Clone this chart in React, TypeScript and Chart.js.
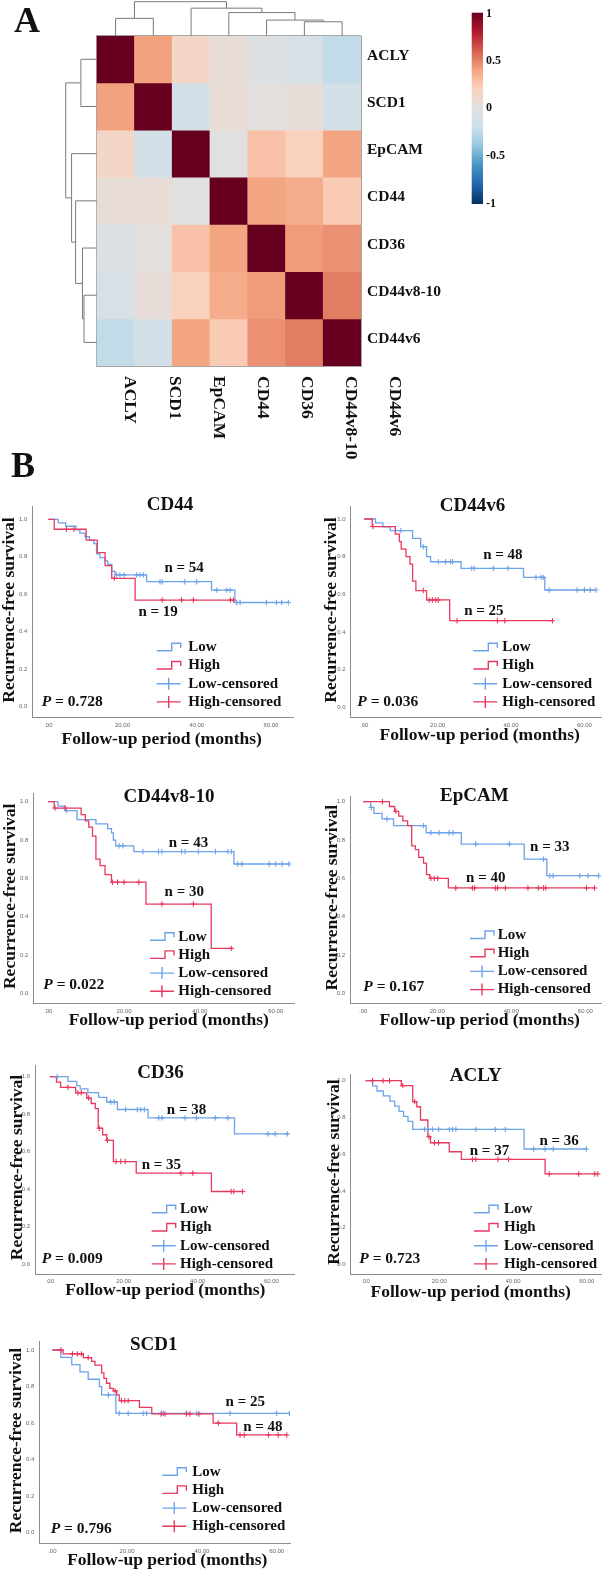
import React, { useEffect, useRef } from 'react';
import { Chart, registerables } from 'chart.js';
Chart.register(...registerables);

const SERIF = "'Liberation Serif', 'Times New Roman', serif";
const BLUE = '#6da3e8';
const RED = '#e8395e';
const AXIS = '#8c8c8c';

// ---------------- Heatmap (panel A) ----------------
const GENES = ['ACLY', 'SCD1', 'EpCAM', 'CD44', 'CD36', 'CD44v8-10', 'CD44v6'];
const corrACLY = [1, 0.41, 0.15, 0.06, -0.04, -0.09, -0.24];
const corrSCD1 = [0.41, 1, -0.14, 0.06, 0.02, 0.05, -0.13];
const corrEpCAM = [0.15, -0.14, 1, 0.0, 0.28, 0.21, 0.4];
const corrCD44 = [0.06, 0.06, 0.0, 1, 0.4, 0.37, 0.235];
const corrCD36 = [-0.04, 0.02, 0.28, 0.4, 1, 0.43, 0.46];
const corrCD44v810 = [-0.09, 0.05, 0.21, 0.37, 0.43, 1, 0.52];
const corrCD44v6 = [-0.24, -0.13, 0.4, 0.235, 0.46, 0.52, 1];
const CORR_ROWS = [corrACLY, corrSCD1, corrEpCAM, corrCD44, corrCD36, corrCD44v810, corrCD44v6];

// dendrogram merges (leaf ids 0..6, merge ids 7..12)
const MERGE_A = [5, 4, 0, 3, 2, 9];
const MERGE_B = [6, 7, 1, 8, 10, 11];
const MERGE_H = [0.41, 0.46, 0.51, 0.68, 0.81, 1.0];

const CB_VALUES = [-1, -0.8, -0.6, -0.4, -0.2, 0, 0.2, 0.4, 0.6, 0.8, 1];
const CB_COLORS = ['#053061', '#2166ac', '#4393c3', '#92c5de', '#cde0eb', '#e0e0e0', '#fad3bf', '#f4a582', '#d6604d', '#b2182b', '#67001f'];
const CB_TICKS = [1, 0.5, 0, -0.5, -1];
const CB_TICK_LABELS = ['1', '0.5', '0', '-0.5', '-1'];

function hexRgb(h: string) {
  return [parseInt(h.slice(1, 3), 16), parseInt(h.slice(3, 5), 16), parseInt(h.slice(5, 7), 16)];
}
function corrColor(v: number) {
  for (let i = 0; i < CB_VALUES.length - 1; i++) {
    if (v <= CB_VALUES[i + 1]) {
      const f = (v - CB_VALUES[i]) / (CB_VALUES[i + 1] - CB_VALUES[i]);
      const a = hexRgb(CB_COLORS[i]);
      const b = hexRgb(CB_COLORS[i + 1]);
      const c = a.map((x, k) => Math.round(x + (b[k] - x) * f));
      return `rgb(${c[0]},${c[1]},${c[2]})`;
    }
  }
  return CB_COLORS[CB_COLORS.length - 1];
}

const heatDecor = {
  id: 'heatDecor',
  afterDraw(chart: any) {
    const { ctx, chartArea } = chart;
    const xs = chart.scales.x;
    const ys = chart.scales.y;
    ctx.save();
    // dendrograms
    ctx.strokeStyle = '#7a7a7a';
    ctx.lineWidth = 1;
    const draw = (top: boolean) => {
      const pos: number[] = [];
      const hg: number[] = [];
      for (let i = 0; i < GENES.length; i++) {
        pos[i] = top ? xs.getPixelForValue(i) : ys.getPixelForValue(i + 0.5);
        hg[i] = 0;
      }
      const toPx = (h: number) => (top ? chartArea.top - h * 34 : chartArea.left - h * 31);
      MERGE_A.forEach((a, k) => {
        const b = MERGE_B[k];
        const h = MERGE_H[k];
        const id = GENES.length + k;
        ctx.beginPath();
        if (top) {
          ctx.moveTo(pos[a], toPx(hg[a]));
          ctx.lineTo(pos[a], toPx(h));
          ctx.lineTo(pos[b], toPx(h));
          ctx.lineTo(pos[b], toPx(hg[b]));
        } else {
          ctx.moveTo(toPx(hg[a]), pos[a]);
          ctx.lineTo(toPx(h), pos[a]);
          ctx.lineTo(toPx(h), pos[b]);
          ctx.lineTo(toPx(hg[b]), pos[b]);
        }
        ctx.stroke();
        pos[id] = (pos[a] + pos[b]) / 2;
        hg[id] = h;
      });
    };
    draw(true);
    draw(false);

    // row labels
    ctx.fillStyle = '#111';
    ctx.font = `bold 15.5px ${SERIF}`;
    ctx.textAlign = 'left';
    ctx.textBaseline = 'middle';
    GENES.forEach((g, r) => {
      ctx.fillText(g, chartArea.right + 6, ys.getPixelForValue(r + 0.5) - 3.5);
    });
    // column labels (rotated, reading downward)
    ctx.font = `bold 17.5px ${SERIF}`;
    GENES.forEach((g, i) => {
      ctx.save();
      ctx.translate(130 + i * 44.1, 376);
      ctx.rotate(Math.PI / 2);
      ctx.fillText(g, 0, 0);
      ctx.restore();
    });

    // colour bar
    const cbL = 471.7, cbT = 12.7, cbW = 11.3, cbH = 191.3;
    const grad = ctx.createLinearGradient(0, cbT, 0, cbT + cbH);
    CB_VALUES.forEach((v, i) => grad.addColorStop((1 - v) / 2, CB_COLORS[i]));
    ctx.fillStyle = grad;
    ctx.fillRect(cbL, cbT, cbW, cbH);
    ctx.fillStyle = '#111';
    ctx.font = `bold 12px ${SERIF}`;
    ctx.textAlign = 'left';
    CB_TICKS.forEach((v, i) => {
      ctx.fillText(CB_TICK_LABELS[i], 486, cbT + ((1 - v) / 2) * cbH + (i === 0 ? 1 : 0));
    });

    // panel letters
    ctx.font = `bold 36px ${SERIF}`;
    ctx.textBaseline = 'alphabetic';
    ctx.fillText('A', 14, 32);
    ctx.fillText('B', 11, 476.5);
    ctx.restore();
  },
};

function makeHeatmap(canvas: HTMLCanvasElement) {
  const gridCfg = { color: '#a6a6a6', lineWidth: 1, drawTicks: false };
  return new Chart(canvas, {
    type: 'bar',
    data: {
      labels: GENES,
      datasets: CORR_ROWS.map((row, r) => ({
        label: GENES[r],
        data: row.map(() => [r, r + 1]),
        backgroundColor: row.map(corrColor),
        borderWidth: 0,
        grouped: false,
        barPercentage: 1,
        categoryPercentage: 1,
      })),
    } as any,
    options: {
      animation: false,
      responsive: false,
      devicePixelRatio: 1,
      layout: { padding: { left: 96.7, top: 35.7, right: 246, bottom: 119 } },
      plugins: { legend: { display: false }, tooltip: { enabled: false } },
      scales: {
        x: {
          type: 'category',
          offset: true,
          z: 1,
          grid: { ...gridCfg, offset: true },
          border: { display: true, color: '#a6a6a6' },
          ticks: { display: false },
          afterFit: (s: any) => { s.height = 0; },
        },
        y: {
          type: 'linear',
          min: 0,
          max: 7,
          reverse: true,
          z: 1,
          grid: gridCfg,
          border: { display: true, color: '#a6a6a6' },
          ticks: { display: false, stepSize: 1 },
          afterFit: (s: any) => { s.width = 0; },
        },
      },
    } as any,
    plugins: [heatDecor],
  });
}

// ---------------- Kaplan-Meier (panel B) ----------------
const KM_X_TICKS = [0, 20, 40, 60];
const KM_Y_TICKS = [0, 0.2, 0.4, 0.6, 0.8, 1.0];
const LEGEND_LABELS = ['Low', 'High', 'Low-censored', 'High-censored'];
const PANEL_NAMES = ['CD44', 'CD44v6', 'CD44v8-10', 'EpCAM', 'CD36', 'ACLY', 'SCD1'];
const P_VALUES = ['0.728', '0.036', '0.022', '0.167', '0.009', '0.723', '0.796'];
const N_LOW = [54, 48, 43, 33, 38, 36, 25];
const N_HIGH = [19, 25, 30, 40, 35, 37, 48];

// CD44
const cd44LowT = [2.7, 4.7, 7.5, 8.5, 9.9, 11.1, 12.3, 13.0, 13.9, 15.3, 16.0, 17.1, 18.0, 26.5, 44.0, 50.3];
const cd44LowS = [0.981, 0.963, 0.944, 0.926, 0.907, 0.889, 0.87, 0.815, 0.796, 0.778, 0.759, 0.722, 0.703, 0.667, 0.622, 0.556];
const cd44LowC = [18.4, 19.3, 20.4, 23.8, 24.7, 25.6, 30.1, 30.7, 36.8, 40.0, 45.4, 48.1, 49.0, 50.8, 51.7, 58.8, 61.5, 62.9, 64.7];
const cd44HighT = [1.6, 10.2, 13.2, 15.3, 17.1, 23.4];
const cd44HighS = [0.947, 0.889, 0.822, 0.753, 0.685, 0.569];
const cd44HighC = [4.9, 6.9, 17.8, 30.7, 35.9, 39.1, 49.1, 49.9];
// CD44v6
const v6LowT = [3.1, 5.1, 7.1, 13.2, 15.4, 17.0, 18.1, 26.4, 43.4, 49.2];
const v6LowS = [0.979, 0.958, 0.938, 0.897, 0.853, 0.8, 0.773, 0.738, 0.69, 0.623];
const v6LowC = [10.0, 16.1, 20.2, 22.2, 23.5, 24.1, 29.3, 30.0, 35.2, 39.2, 46.8, 48.2, 48.8, 50.4, 58.0, 60.0, 61.6, 63.1];
const v6HighT = [2.2, 8.5, 9.6, 10.1, 11.4, 12.5, 13.2, 14.1, 17.0, 23.3];
const v6HighS = [0.96, 0.92, 0.88, 0.84, 0.8, 0.76, 0.67, 0.62, 0.57, 0.46];
const v6HighC = [2.4, 16.1, 17.7, 18.6, 19.5, 20.2, 25.3, 36.3, 38.3, 51.3];
// CD44v8-10
const v810LowT = [2.6, 4.5, 7.6, 12.6, 15.7, 16.7, 17.2, 17.8, 22.6, 49.0];
const v810LowS = [0.977, 0.953, 0.907, 0.884, 0.86, 0.837, 0.8, 0.77, 0.74, 0.675];
const v810LowC = [4.8, 18.7, 19.7, 25.0, 29.1, 30.0, 35.2, 36.1, 39.6, 44.1, 47.4, 48.3, 50.0, 51.1, 58.3, 60.0, 61.7, 63.5];
const v810HighT = [1.6, 8.7, 9.8, 10.7, 11.7, 12.6, 13.7, 15.0, 16.7, 25.8, 43.0];
const v810HighS = [0.967, 0.933, 0.9, 0.867, 0.82, 0.7, 0.667, 0.62, 0.58, 0.466, 0.235];
const v810HighC = [1.8, 4.5, 17.0, 18.3, 20.0, 23.9, 30.0, 38.3, 48.3];
// EpCAM
const epLowT = [2.0, 2.9, 5.1, 8.2, 17.0, 26.5, 43.5, 49.6];
const epLowS = [0.97, 0.939, 0.91, 0.875, 0.838, 0.779, 0.7, 0.614];
const epLowC = [2.2, 6.4, 16.3, 18.3, 20.5, 23.2, 24.3, 30.4, 39.5, 48.7, 50.4, 51.3, 58.5, 60.7, 63.6];
const epHighT = [7.1, 8.5, 9.6, 10.7, 12.0, 13.1, 14.1, 15.0, 16.3, 17.1, 18.0, 23.0];
const epHighS = [0.975, 0.95, 0.925, 0.9, 0.875, 0.77, 0.75, 0.71, 0.68, 0.62, 0.6, 0.55];
const epHighC = [5.2, 8.8, 18.3, 19.2, 20.1, 25.0, 29.5, 30.1, 35.7, 36.3, 38.4, 44.5, 47.3, 48.7, 49.3, 60.3, 62.5];
// CD36
const cd36LowT = [4.9, 7.3, 8.2, 10.3, 13.2, 15.4, 18.3, 26.6, 50.0];
const cd36LowS = [0.975, 0.952, 0.935, 0.915, 0.89, 0.865, 0.825, 0.78, 0.695];
const cd36LowC = [2.0, 16.5, 17.4, 20.5, 23.7, 24.6, 25.6, 29.5, 30.4, 36.6, 39.7, 44.8, 48.2, 59.1, 61.0, 64.3];
const cd36HighT = [1.8, 2.9, 7.0, 10.0, 11.2, 12.3, 13.1, 14.3, 15.4, 17.2, 23.4, 43.75];
const cd36HighS = [0.971, 0.943, 0.914, 0.886, 0.857, 0.83, 0.725, 0.69, 0.66, 0.547, 0.485, 0.387];
const cd36HighC = [4.9, 7.6, 8.5, 10.5, 13.4, 15.6, 17.9, 19.2, 20.4, 35.5, 38.7, 49.1, 49.8, 52.2];
// ACLY
const aclyLowT = [1.9, 3.1, 4.8, 6.6, 7.9, 9.1, 10.3, 11.5, 12.8, 43.0];
const aclyLowS = [0.972, 0.944, 0.917, 0.889, 0.861, 0.833, 0.806, 0.778, 0.735, 0.628];
const aclyLowC = [16.0, 16.9, 18.2, 19.8, 22.7, 23.6, 24.5, 29.9, 35.2, 37.9, 45.6, 48.7, 50.9, 59.9];
const aclyHighT = [9.7, 12.8, 13.9, 14.9, 16.9, 17.6, 22.7, 26.0, 48.7];
const aclyHighS = [0.973, 0.886, 0.858, 0.786, 0.695, 0.662, 0.613, 0.572, 0.492];
const aclyHighC = [1.9, 4.75, 6.5, 10.1, 13.3, 17.2, 18.7, 19.8, 29.0, 29.9, 35.9, 38.8, 49.8, 57.8, 62.2, 63.0];
// SCD1
const scd1LowT = [2.3, 5.2, 7.4, 9.6, 12.6, 13.2, 17.0];
const scd1LowS = [0.96, 0.92, 0.88, 0.84, 0.8, 0.754, 0.653];
const scd1LowC = [15.0, 17.9, 20.3, 24.3, 25.2, 29.2, 29.7, 35.9, 38.6, 47.5, 60.0, 63.4];
const scd1HighT = [2.9, 8.3, 10.5, 11.4, 13.2, 13.8, 14.5, 15.4, 16.3, 17.2, 17.9, 23.3, 26.6, 43.0, 49.3];
const scd1HighS = [0.979, 0.958, 0.938, 0.917, 0.875, 0.845, 0.818, 0.79, 0.776, 0.754, 0.723, 0.686, 0.65, 0.6, 0.535];
const scd1HighC = [2.3, 5.4, 6.7, 7.8, 9.6, 16.8, 18.5, 19.4, 20.3, 29.1, 30.1, 35.9, 36.8, 39.2, 44.4, 50.2, 51.3, 57.8, 60.4, 62.7];

const KM_SERIES = [
  [cd44LowT, cd44LowS, cd44LowC, cd44HighT, cd44HighS, cd44HighC],
  [v6LowT, v6LowS, v6LowC, v6HighT, v6HighS, v6HighC],
  [v810LowT, v810LowS, v810LowC, v810HighT, v810HighS, v810HighC],
  [epLowT, epLowS, epLowC, epHighT, epHighS, epHighC],
  [cd36LowT, cd36LowS, cd36LowC, cd36HighT, cd36HighS, cd36HighC],
  [aclyLowT, aclyLowS, aclyLowC, aclyHighT, aclyHighS, aclyHighC],
  [scd1LowT, scd1LowS, scd1LowC, scd1HighT, scd1HighS, scd1HighC],
];

// layout per panel (page pixel coordinates)
const LAYOUT = [
  { cl: 0, ct: 488, cw: 300, ch: 265, L: 32.3, T: 506.7, R: 293.3, B: 717.3, x0: 48.3, kx: 3.71, y1: 519.3, y0: 706.7,
    nLow: [36.6, 0.738], nHigh: [29.6, 0.504], leg: [124.4, 156, 70], pAt: [9.4, 15.6], title: [170, 505], xt: [161.7, 739], ytX: 9 },
  { cl: 300, ct: 488, cw: 307, ch: 265, L: 350.7, T: 506.7, R: 605, B: 717.3, x0: 364.3, kx: 3.717, y1: 519, y0: 707.3,
    nLow: [37.8, 0.81], nHigh: [32.6, 0.513], leg: [122.6, 151.6, 70], pAt: [6.6, 15.3], title: [472.5, 506], xt: [479.7, 735.7], ytX: 331 },
  { cl: 0, ct: 776, cw: 300, ch: 262, L: 33.3, T: 793.3, R: 297.7, B: 1003.3, x0: 48.3, kx: 3.833, y1: 801.7, y0: 993.4,
    nLow: [37, 0.783], nHigh: [35.9, 0.527], leg: [116.7, 145, 66.6], pAt: [10, 18.3], title: [169, 796.7], xt: [168.8, 1020], ytX: 10 },
  { cl: 300, ct: 776, cw: 307, ch: 262, L: 350, T: 796, R: 604, B: 1003.3, x0: 363.3, kx: 3.733, y1: 801.7, y0: 993.4,
    nLow: [50.4, 0.765], nHigh: [33.1, 0.6], leg: [120, 147.7, 68.3], pAt: [13.3, 16], title: [474.3, 796], xt: [479.7, 1020], ytX: 332.5 },
  { cl: 0, ct: 1052, cw: 300, ch: 256, L: 35, T: 1065, R: 297.7, B: 1274, x0: 50, kx: 3.733, y1: 1076.7, y0: 1264,
    nLow: [37, 0.822], nHigh: [30.2, 0.529], leg: [116.7, 145, 64.7], pAt: [6.7, 14.7], title: [160.5, 1073.3], xt: [165.3, 1290], ytX: 17 },
  { cl: 300, ct: 1052, cw: 307, ch: 256, L: 350.7, T: 1074, R: 604, B: 1274, x0: 365.7, kx: 3.717, y1: 1080.7, y0: 1264.3,
    nLow: [52.5, 0.673], nHigh: [33.6, 0.619], leg: [123.3, 153.3, 64.7], pAt: [8.6, 14.7], title: [475.8, 1076], xt: [470.7, 1292.7], ytX: 334 },
  { cl: 0, ct: 1326, cw: 300, ch: 244, L: 39.3, T: 1341.7, R: 290, B: 1543.3, x0: 52.3, kx: 3.74, y1: 1350, y0: 1532.7,
    nLow: [51.6, 0.717], nHigh: [56.3, 0.58], leg: [123, 153, 71.6], pAt: [11.4, 14.3], title: [153.8, 1345], xt: [167.3, 1560], ytX: 16 },
];

function stepLine(t: number[], s: number[], c: number[]) {
  const pts = [{ x: 0, y: 1 }];
  t.forEach((ti, i) => pts.push({ x: ti, y: s[i] }));
  const end = Math.max(t[t.length - 1], ...c);
  pts.push({ x: end, y: s[s.length - 1] });
  return pts;
}
function survAt(t: number[], s: number[], time: number) {
  let v = 1;
  for (let i = 0; i < t.length; i++) if (t[i] <= time) v = s[i];
  return v;
}
function censorPts(t: number[], s: number[], c: number[]) {
  return c.map((ci) => ({ x: ci, y: survAt(t, s, ci) }));
}

function kmDecor(idx: number) {
  const p: any = LAYOUT[idx];
  return {
    id: 'kmDecor',
    afterDraw(chart: any) {
      const ctx = chart.ctx;
      const ca = chart.chartArea;
      const xs = chart.scales.x;
      const ys = chart.scales.y;
      const ox = p.cl, oy = p.ct;
      ctx.save();
      ctx.fillStyle = '#111';
      ctx.textAlign = 'center';
      ctx.textBaseline = 'middle';
      ctx.font = `bold 19px ${SERIF}`;
      ctx.fillText(PANEL_NAMES[idx], p.title[0] - ox, p.title[1] - oy);
      ctx.font = `bold 17.5px ${SERIF}`;
      ctx.fillText('Follow-up period (months)', p.xt[0] - ox, p.xt[1] - oy);
      ctx.save();
      ctx.translate(p.ytX - ox, (ca.top + ca.bottom) / 2 - 2);
      ctx.rotate(-Math.PI / 2);
      ctx.fillText('Recurrence-free survival', 0, 0);
      ctx.restore();

      ctx.font = `bold 15px ${SERIF}`;
      ctx.fillText(`n = ${N_LOW[idx]}`, xs.getPixelForValue(p.nLow[0]), ys.getPixelForValue(p.nLow[1]));
      ctx.fillText(`n = ${N_HIGH[idx]}`, xs.getPixelForValue(p.nHigh[0]), ys.getPixelForValue(p.nHigh[1]));

      // P value
      ctx.textAlign = 'left';
      const px = ca.left + p.pAt[0];
      const py = ca.bottom - p.pAt[1];
      ctx.font = `italic bold 15.5px ${SERIF}`;
      ctx.fillText('P', px, py);
      const w = ctx.measureText('P').width;
      ctx.font = `bold 15.5px ${SERIF}`;
      ctx.fillText(` = ${P_VALUES[idx]}`, px + w, py);

      // legend
      const ix = ca.left + p.leg[0];
      const tx = ca.left + p.leg[1];
      const iw = 24;
      LEGEND_LABELS.forEach((lab, i) => {
        const y = ca.bottom - (p.leg[2] - i * 18.2);
        const col = i % 2 === 0 ? BLUE : RED;
        ctx.strokeStyle = col;
        ctx.lineWidth = 1.4;
        ctx.beginPath();
        if (i < 2) {
          ctx.moveTo(ix, y + 3.5);
          ctx.lineTo(ix + 15, y + 3.5);
          ctx.lineTo(ix + 15, y - 4);
          ctx.lineTo(ix + iw, y - 4);
          ctx.lineTo(ix + iw, y + 0.5);
        } else {
          ctx.moveTo(ix, y);
          ctx.lineTo(ix + iw, y);
          ctx.moveTo(ix + 12, y - 6);
          ctx.lineTo(ix + 12, y + 6);
        }
        ctx.stroke();
        ctx.fillStyle = '#111';
        ctx.font = `bold 15px ${SERIF}`;
        ctx.fillText(lab, tx, y);
      });
      ctx.restore();
    },
  };
}

function makeKm(canvas: HTMLCanvasElement, idx: number) {
  const p: any = LAYOUT[idx];
  const [lt, ls, lc, ht, hs, hc] = KM_SERIES[idx];
  const span = p.y0 - p.y1;
  const xMin = (p.L - p.x0) / p.kx;
  const xMax = (p.R - p.x0) / p.kx;
  const yMax = (p.y0 - p.T) / span;
  const yMin = (p.y0 - p.B) / span;
  return new Chart(canvas, {
    type: 'scatter',
    data: {
      datasets: [
        { label: 'Low', data: stepLine(lt, ls, lc), showLine: true, stepped: 'before', borderColor: BLUE, borderWidth: 1.3, pointRadius: 0, order: 4 },
        { label: 'High', data: stepLine(ht, hs, hc), showLine: true, stepped: 'before', borderColor: RED, borderWidth: 1.3, pointRadius: 0, order: 3 },
        { label: 'Low-censored', data: censorPts(lt, ls, lc), showLine: false, pointStyle: 'cross', pointRadius: 2.7, borderColor: BLUE, backgroundColor: BLUE, pointBorderWidth: 1.1, order: 2 },
        { label: 'High-censored', data: censorPts(ht, hs, hc), showLine: false, pointStyle: 'cross', pointRadius: 2.7, borderColor: RED, backgroundColor: RED, pointBorderWidth: 1.1, order: 1 },
      ],
    } as any,
    options: {
      animation: false,
      responsive: false,
      devicePixelRatio: 1,
      layout: { padding: { left: 0, top: p.T - p.ct, right: p.cl + p.cw - p.R, bottom: 0 } },
      plugins: { legend: { display: false }, tooltip: { enabled: false } },
      scales: {
        x: {
          type: 'linear',
          min: xMin,
          max: xMax,
          grid: { display: false, drawTicks: false },
          border: { display: true, color: AXIS, width: 1 },
          ticks: {
            font: { size: 6, family: 'Liberation Sans' },
            color: '#666',
            padding: 4,
            callback: (v: number) => (v === 0 ? '.00' : v.toFixed(2)),
          },
          afterBuildTicks: (s: any) => { s.ticks = KM_X_TICKS.map((v) => ({ value: v })); },
          afterFit: (s: any) => { s.height = p.ct + p.ch - p.B; },
        },
        y: {
          type: 'linear',
          min: yMin,
          max: yMax,
          grid: { display: false, drawTicks: false },
          border: { display: true, color: AXIS, width: 1 },
          ticks: {
            font: { size: 6, family: 'Liberation Sans' },
            color: '#666',
            padding: 5,
            callback: (v: number) => v.toFixed(1),
          },
          afterBuildTicks: (s: any) => { s.ticks = KM_Y_TICKS.map((v) => ({ value: v })); },
          afterFit: (s: any) => { s.width = p.L - p.cl; },
        },
      },
    } as any,
    plugins: [kmDecor(idx)],
  });
}

function ChartCanvas(props: { left: number; top: number; width: number; height: number; make: (c: HTMLCanvasElement) => any }) {
  const ref = useRef<HTMLCanvasElement>(null);
  useEffect(() => {
    const chart = props.make(ref.current as HTMLCanvasElement);
    return () => chart.destroy();
  }, []);
  return (
    <canvas
      ref={ref}
      width={props.width}
      height={props.height}
      style={{ position: 'absolute', left: props.left, top: props.top, width: props.width, height: props.height }}
    />
  );
}

export default function App() {
  return (
    <div style={{ position: 'absolute', left: 0, top: 0, width: 607, height: 1570, background: '#fff', overflow: 'hidden' }}>
      <ChartCanvas left={0} top={0} width={607} height={485} make={makeHeatmap} />
      {LAYOUT.map((p, i) => (
        <ChartCanvas key={i} left={p.cl} top={p.ct} width={p.cw} height={p.ch} make={(c) => makeKm(c, i)} />
      ))}
    </div>
  );
}
